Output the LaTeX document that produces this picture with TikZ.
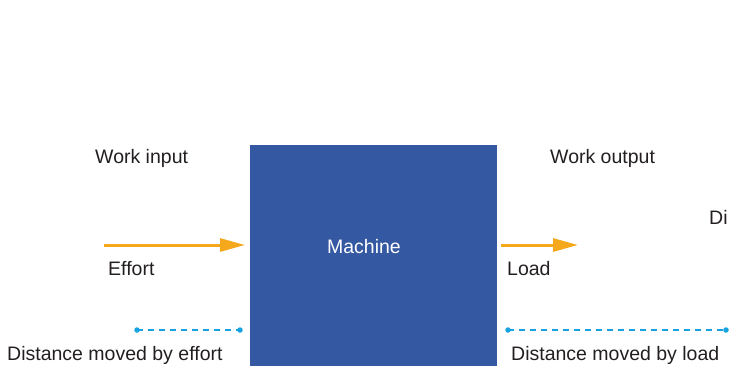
\documentclass[tikz,border=0pt]{standalone}
\usepackage{fontspec}
\setmainfont{Liberation Sans}
\usetikzlibrary{arrows.meta}
\definecolor{boxblue}{HTML}{3558A3}
\definecolor{arroworange}{HTML}{F6A81C}
\definecolor{dashcyan}{HTML}{16A3E0}
\definecolor{txt}{HTML}{231F20}
\tikzset{
  lbl/.style={anchor=base west, inner sep=0pt, text=txt, font=\fontsize{19.5}{22}\selectfont},
  force/.style={draw=arroworange, line width=3pt, -{Triangle[length=25pt,width=13pt]}},
  dist/.style={draw=dashcyan, line width=2.8pt, dash pattern=on 6pt off 5pt},
  enddot/.style={circle, fill=dashcyan, inner sep=0pt, minimum size=5.5pt},
}
\begin{document}
\begin{tikzpicture}[x=1pt,y=-1pt]
\useasboundingbox (0,0) rectangle (729,365);
\clip (0,0) rectangle (729,365);
\node[fill=boxblue, minimum width=247pt, minimum height=222pt, inner sep=0pt, anchor=north west] (machine) at (250,145) {};
\node[anchor=base, inner sep=0pt, text=white, font=\fontsize{19.5}{22}\selectfont] (mlabel) at (364,253) {Machine};
\node[lbl] (win) at (95,163) {Work input};
\node[lbl] (wout) at (550,163) {Work output};
\node[lbl] (di) at (709,224) {Di};
\node[lbl] (effort) at (108,275) {Effort};
\node[lbl] (load) at (507,275) {Load};
\node[lbl] (dle) at (7,360) {Distance moved by effort};
\node[lbl] (dll) at (511,360) {Distance moved by load};
\coordinate (ea) at (104,245);
\coordinate (eb) at (245,245);
\coordinate (la) at (501,245);
\coordinate (lb) at (578,245);
\draw[force] (ea) -- (eb);
\draw[force] (la) -- (lb);
\node[enddot] (d1) at (137,330) {};
\node[enddot] (d2) at (240,330) {};
\node[enddot] (d3) at (508,330) {};
\node[enddot] (d4) at (726,330) {};
\draw[dist] (d1.center) -- (d2.center);
\draw[dist] (d3.center) -- (d4.center);
\end{tikzpicture}
\end{document}
